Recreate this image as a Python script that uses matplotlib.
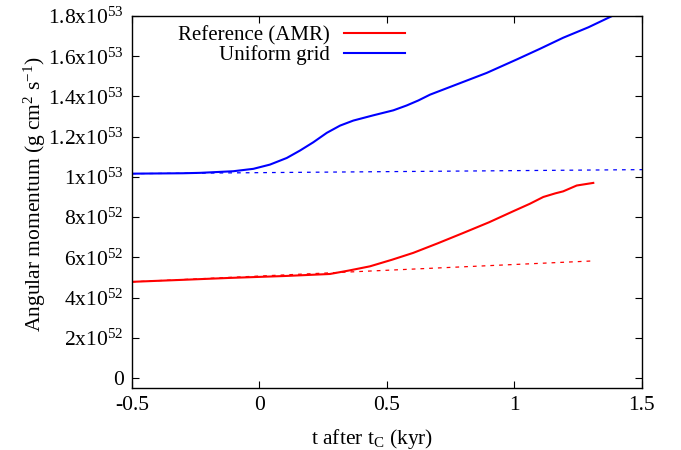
import numpy as np
import matplotlib
matplotlib.use('Agg')
import matplotlib.pyplot as plt

plt.rcParams['font.family'] = ['Liberation Serif', 'DejaVu Serif']
plt.rcParams['mathtext.fontset'] = 'custom'
plt.rcParams['mathtext.rm'] = 'Liberation Serif'
plt.rcParams['mathtext.it'] = 'Liberation Serif:italic'

# Datos (tiempo en kyr, momento angular en 1e52 g cm^2 s^-1)
t_unif = [-0.5, -0.3, -0.233, -0.103, -0.024, 0.041, 0.107, 0.159, 0.211, 0.264, 0.316, 0.368,
          0.446, 0.525, 0.577, 0.623, 0.669, 0.78, 0.891, 1.009, 1.1, 1.191, 1.29, 1.381]
L_unif = [101.6, 101.8, 102.0, 102.8, 104.0, 106.1, 109.4, 113.1, 117.2, 121.9, 125.5, 128.0,
          130.6, 133.1, 135.5, 138.0, 140.9, 146.3, 151.7, 158.4, 163.7, 169.2, 174.4, 179.9]

t_amr = [-0.5, -0.3, -0.116, 0.1, 0.276, 0.35, 0.433, 0.52, 0.603, 0.7, 0.799, 0.9, 0.995,
         1.06, 1.113, 1.16, 1.191, 1.244, 1.309]
L_amr = [47.8, 48.8, 49.75, 50.7, 51.7, 53.4, 55.5, 58.8, 62.2, 67.0, 72.1, 77.4, 82.9,
         86.6, 90.0, 91.8, 92.8, 95.7, 97.0]

# Extrapolaciones lineales (líneas discontinuas)
t_unif_fit = [-0.5, 1.5]
L_unif_fit = [101.6, 103.6]
t_amr_fit = [-0.5, 1.309]
L_amr_fit = [47.8, 58.2]

yticks = [0, 20, 40, 60, 80, 100, 120, 140, 160, 180]
ytick_labels = ['0', r'2x10$^{52}$', r'4x10$^{52}$', r'6x10$^{52}$', r'8x10$^{52}$',
                r'1x10$^{53}$', r'1.2x10$^{53}$', r'1.4x10$^{53}$', r'1.6x10$^{53}$', r'1.8x10$^{53}$']
xticks = [-0.5, 0, 0.5, 1, 1.5]
xtick_labels = ['-0.5', '0', '0.5', '1', '1.5']

fs = 15.5

fig = plt.figure(figsize=(6.81, 4.50), dpi=100)
ax = fig.add_axes([0.1938, 0.1378, 0.7489, 0.8266])

ax.plot(t_amr, L_amr, color='#ff0000', lw=1.5, label='Reference (AMR)')
ax.plot(t_unif, L_unif, color='#0000ff', lw=1.5, label='Uniform grid')
ax.plot(t_amr_fit, L_amr_fit, color='#ff0000', lw=0.9, ls=(0, (3, 4)))
ax.plot(t_unif_fit, L_unif_fit, color='#0000ff', lw=0.9, ls=(0, (3, 4)))

ax.set_xlim(-0.5, 1.5)
ax.set_ylim(-5, 180)
ax.set_xticks(xticks)
ax.set_xticklabels(xtick_labels)
ax.set_yticks(yticks)
ax.set_yticklabels(ytick_labels)
ax.tick_params(direction='in', top=True, right=True, length=5, width=0.8, labelsize=fs)
ax.tick_params(axis='y', pad=6)
ax.tick_params(axis='x', pad=6)
for s in ax.spines.values():
    s.set_linewidth(1.0)

ax.set_xlabel(r't after t$_{\rm C}$ (kyr)', fontsize=fs)
ax.set_ylabel(r'Angular momentum (g cm$^{2}$ s$^{-1}$)', fontsize=fs)
ax.xaxis.set_label_coords(0.47, -0.105)
ax.yaxis.set_label_coords(-0.165, 0.52)

leg = ax.legend(loc='upper right', bbox_to_anchor=(0.535, 0.974), frameon=False, fontsize=15,
                markerfirst=False, handlelength=2.9, handletextpad=0.7, labelspacing=0.0,
                borderpad=0, borderaxespad=0)
for t in leg.get_texts():
    t.set_ha('right')
leg._legend_box.align = 'right'

fig.savefig('out.png', dpi=100)
